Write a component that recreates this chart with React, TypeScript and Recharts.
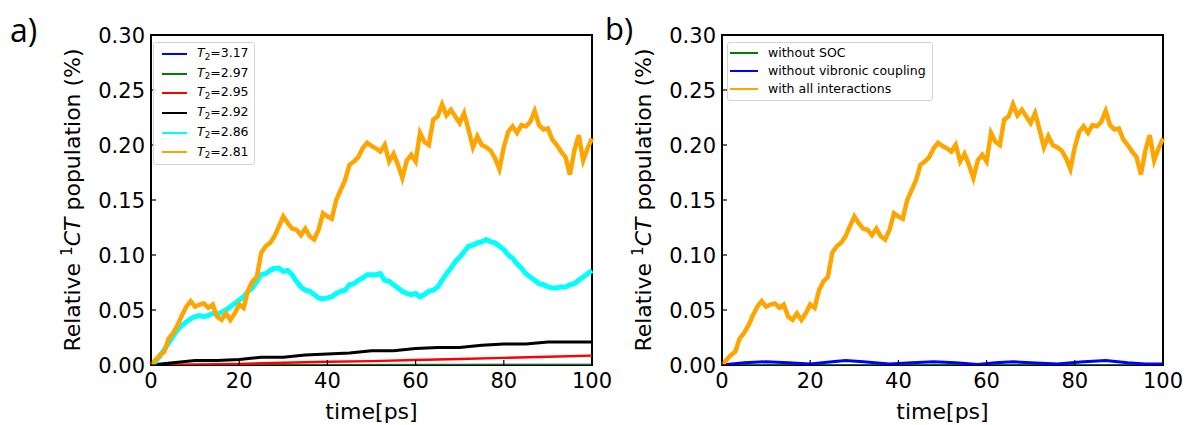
import { LineChart, Line, XAxis, YAxis, Legend, ReferenceArea } from "recharts";

// time axis in ps (1 ps steps for the noisy traces)
const time = Array.from({ length: 101 }, (_, i) => i);

// T2=2.81 / "with all interactions"
const orangeVals = [
  0, 0.0045, 0.009, 0.012, 0.024, 0.029, 0.036, 0.045, 0.053, 0.058,
  0.053, 0.055, 0.056, 0.052, 0.055, 0.044, 0.041, 0.047, 0.041, 0.047,
  0.055, 0.052, 0.068, 0.076, 0.08, 0.102, 0.108, 0.111, 0.117, 0.126,
  0.135, 0.129, 0.124, 0.123, 0.118, 0.124, 0.117, 0.114, 0.123, 0.138,
  0.135, 0.133, 0.15, 0.159, 0.168, 0.182, 0.185, 0.189, 0.197, 0.202,
  0.199, 0.197, 0.194, 0.2, 0.185, 0.192, 0.182, 0.17, 0.186, 0.191,
  0.185, 0.211, 0.203, 0.2, 0.223, 0.226, 0.237, 0.227, 0.232, 0.226,
  0.22, 0.229, 0.214, 0.198, 0.208, 0.2, 0.198, 0.195, 0.188, 0.178,
  0.198, 0.212, 0.217, 0.211, 0.218, 0.217, 0.221, 0.231, 0.218, 0.214,
  0.215, 0.205, 0.2, 0.194, 0.189, 0.173, 0.195, 0.209, 0.186, 0.197,
  0.206,
];

// T2=2.86
const cyanVals = [
  0, 0.003, 0.008, 0.014, 0.02, 0.026, 0.032, 0.036, 0.039, 0.042,
  0.044, 0.045, 0.044, 0.045, 0.047, 0.046, 0.048, 0.05, 0.053, 0.056,
  0.059, 0.062, 0.067, 0.07, 0.076, 0.082, 0.083, 0.086, 0.088, 0.088,
  0.085, 0.086, 0.082, 0.076, 0.071, 0.068, 0.067, 0.064, 0.061, 0.06,
  0.061, 0.062, 0.065, 0.067, 0.068, 0.073, 0.074, 0.077, 0.079, 0.082,
  0.082, 0.082, 0.083, 0.077, 0.076, 0.073, 0.07, 0.067, 0.065, 0.064,
  0.065, 0.062, 0.064, 0.067, 0.068, 0.071, 0.077, 0.083, 0.088, 0.094,
  0.098, 0.103, 0.108, 0.109, 0.111, 0.112, 0.114, 0.112, 0.111, 0.108,
  0.105, 0.1, 0.097, 0.092, 0.088, 0.083, 0.08, 0.077, 0.074, 0.073,
  0.071, 0.07, 0.07, 0.071, 0.071, 0.073, 0.074, 0.077, 0.08, 0.083,
  0.086,
];

// T2=2.92
const blackTime = [0, 5, 10, 15, 20, 25, 30, 35, 40, 45, 50, 55, 60, 65, 70, 75, 80, 85, 90, 95, 100];
const blackVals = [0, 0.002, 0.004, 0.004, 0.005, 0.007, 0.007, 0.009, 0.01, 0.011, 0.013, 0.013, 0.015, 0.016, 0.016, 0.018, 0.019, 0.019, 0.021, 0.021, 0.021];

// T2=2.95
const redTime = [0, 10, 20, 30, 40, 50, 60, 70, 80, 90, 100];
const redVals = [0, 0.0005, 0.001, 0.002, 0.003, 0.0035, 0.0045, 0.0055, 0.0065, 0.0075, 0.0085];

// T2=2.97 / T2=3.17 / without SOC: flat at zero
const flatTime = [0, 100];
const greenVals = [0, 0];
const blueAVals = [0, 0.0002];

// panel b "without vibronic coupling"
const blueBTime = [0, 5, 10, 15, 20, 25, 28, 32, 38, 43, 48, 53, 58, 62, 66, 70, 76, 82, 87, 92, 96, 100];
const blueBVals = [0, 0.002, 0.003, 0.002, 0.001, 0.003, 0.004, 0.003, 0.001, 0.002, 0.003, 0.002, 0.0005, 0.002, 0.003, 0.002, 0.001, 0.003, 0.004, 0.002, 0.001, 0.001];

const xTicks = [0, 20, 40, 60, 80, 100];
const yTicks = [0, 0.05, 0.1, 0.15, 0.2, 0.25, 0.3];

const legendA = [
  { t2: "3.17", color: "#0000ff" },
  { t2: "2.97", color: "#008000" },
  { t2: "2.95", color: "#ff0000" },
  { t2: "2.92", color: "#000000" },
  { t2: "2.86", color: "#00ffff" },
  { t2: "2.81", color: "#ffa500" },
];
const legendB = [
  { name: "without SOC", color: "#008000" },
  { name: "without vibronic coupling", color: "#0000ff" },
  { name: "with all interactions", color: "#ffa500" },
];

const FONT = "'DejaVu Sans', sans-serif";
const H = 425;
const TOP = 35;
const BOTTOM = 365;

const toPts = (t: number[], v: number[]) => t.map((x, i) => ({ t: x, v: v[i] }));

function yTick(plotLeft: number) {
  return (props: any) => {
    const { y, payload } = props;
    return (
      <g>
        <line x1={plotLeft} x2={plotLeft + 5} y1={y} y2={y} stroke="#000" strokeWidth={1.2} />
        <text x={plotLeft - 6} y={y} dy="0.36em" textAnchor="end" fontSize={21} fontFamily={FONT} fill="#000">
          {Number(payload.value).toFixed(2)}
        </text>
      </g>
    );
  };
}

function xTick(props: any) {
  const { x, payload } = props;
  return (
    <g>
      <line x1={x} x2={x} y1={BOTTOM} y2={BOTTOM - 5} stroke="#000" strokeWidth={1.2} />
      <text x={x} y={388} textAnchor="middle" fontSize={21} fontFamily={FONT} fill="#000">
        {payload.value}
      </text>
    </g>
  );
}

function yLabel(x: number) {
  return () => (
    <text x={x} y={200} transform={`rotate(-90 ${x} 200)`} textAnchor="middle" fontSize={22} fontFamily={FONT} fill="#000">
      Relative{" "}<tspan dy={-8} fontSize={15}>1</tspan><tspan dy={8} fontStyle="italic">CT</tspan> population (%)
    </text>
  );
}

function xLabel(cx: number) {
  return () => (
    <text x={cx} y={419} textAnchor="middle" fontSize={22} fontFamily={FONT} fill="#000">
      time[ps]
    </text>
  );
}

const boxStyle: React.CSSProperties = {
  border: "1px solid #d4d4d4",
  borderRadius: 3,
  background: "rgba(255,255,255,0.85)",
  fontFamily: FONT,
  fontSize: 12.5,
  color: "#000",
  whiteSpace: "nowrap",
};

function LegendA() {
  return (
    <div style={{ ...boxStyle, padding: "1px 5px 2px 8px", lineHeight: "18.7px" }}>
      {legendA.map((e) => (
        <div key={e.t2} style={{ display: "flex", alignItems: "center" }}>
          <span style={{ display: "inline-block", width: 25, height: 2, background: e.color, marginRight: 10 }} />
          <span>
            <i>T</i>
            <span style={{ fontSize: "0.7em", position: "relative", top: "0.3em" }}>2</span>={e.t2}
          </span>
        </div>
      ))}
    </div>
  );
}

function LegendB() {
  return (
    <div style={{ ...boxStyle, padding: "1px 6px 2px 2px", lineHeight: "18px" }}>
      {legendB.map((e) => (
        <div key={e.name} style={{ display: "flex", alignItems: "center" }}>
          <span style={{ display: "inline-block", width: 28, height: 2, background: e.color, marginRight: 10 }} />
          <span>{e.name}</span>
        </div>
      ))}
    </div>
  );
}

function Frame() {
  return <ReferenceArea x1={0} x2={100} y1={0} y2={0.3} fill="none" stroke="#000" strokeWidth={2} ifOverflow="visible" />;
}

export default function App() {
  const orange = toPts(time, orangeVals);
  const cyan = toPts(time, cyanVals);
  const black = toPts(blackTime, blackVals);
  const red = toPts(redTime, redVals);
  const green = toPts(flatTime, greenVals);
  const blueA = toPts(flatTime, blueAVals);
  const blueB = toPts(blueBTime, blueBVals);

  return (
    <div style={{ position: "absolute", left: 0, top: 0, width: 1186, height: H, background: "#fff" }}>
      <div style={{ position: "absolute", left: 0, top: 0 }}>
        <LineChart width={625} height={H} margin={{ top: TOP, right: 33, bottom: 0, left: 0 }}>
          <XAxis dataKey="t" type="number" domain={[0, 100]} ticks={xTicks} axisLine={false} tickLine={false} tick={xTick} height={60} label={xLabel(371.5)} />
          <YAxis type="number" domain={[0, 0.3]} ticks={yTicks} axisLine={false} tickLine={false} tick={yTick(151)} width={151} allowDataOverflow label={yLabel(80)} />
          <Line data={blueA} dataKey="v" stroke="#0000ff" strokeWidth={2} dot={false} isAnimationActive={false} />
          <Line data={green} dataKey="v" stroke="#008000" strokeWidth={2} dot={false} isAnimationActive={false} />
          <Line data={red} dataKey="v" stroke="#ff0000" strokeWidth={2.4} dot={false} isAnimationActive={false} />
          <Line data={black} dataKey="v" stroke="#000000" strokeWidth={3} dot={false} isAnimationActive={false} />
          <Line data={cyan} dataKey="v" stroke="#00ffff" strokeWidth={5} dot={false} isAnimationActive={false} />
          <Line data={orange} dataKey="v" stroke="#ffa500" strokeWidth={4.5} dot={false} isAnimationActive={false} />
          {Frame()}
          <Legend layout="vertical" align="center" verticalAlign="middle" wrapperStyle={{ left: 153, top: 42, width: "auto" }} content={() => <LegendA />} />
        </LineChart>
      </div>
      <div style={{ position: "absolute", left: 600, top: 0 }}>
        <LineChart width={586} height={H} margin={{ top: TOP, right: 23, bottom: 0, left: 0 }}>
          <XAxis dataKey="t" type="number" domain={[0, 100]} ticks={xTicks} axisLine={false} tickLine={false} tick={xTick} height={60} label={xLabel(342.5)} />
          <YAxis type="number" domain={[0, 0.3]} ticks={yTicks} axisLine={false} tickLine={false} tick={yTick(122)} width={122} allowDataOverflow label={yLabel(51)} />
          <Line data={green} dataKey="v" stroke="#008000" strokeWidth={2} dot={false} isAnimationActive={false} />
          <Line data={blueB} dataKey="v" stroke="#0000ff" strokeWidth={3} dot={false} isAnimationActive={false} />
          <Line data={orange} dataKey="v" stroke="#ffa500" strokeWidth={4.5} dot={false} isAnimationActive={false} />
          {Frame()}
          <Legend layout="vertical" align="center" verticalAlign="middle" wrapperStyle={{ left: 127, top: 42, width: "auto" }} content={() => <LegendB />} />
        </LineChart>
      </div>
      <svg width={1186} height={H} style={{ position: "absolute", left: 0, top: 0, pointerEvents: "none" }}>
        <text x={10} y={42} fontSize={32} fontFamily="'Open Sans', sans-serif" fill="#000">a)</text>
        <text x={605} y={40} fontSize={31} fontFamily="'Open Sans', sans-serif" fill="#000">b)</text>
      </svg>
    </div>
  );
}
